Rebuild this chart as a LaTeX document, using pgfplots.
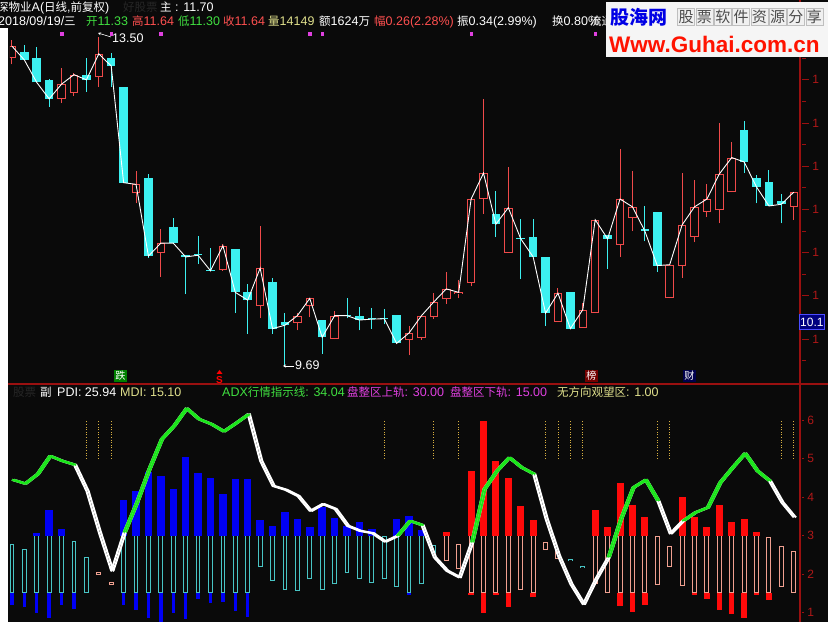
\documentclass[border=0pt]{standalone}
\usepackage{pgfplots}
\pgfplotsset{compat=1.18}
\usepackage{pgfplotstable}
\usepackage{fontspec}
\usetikzlibrary{arrows.meta}
\setmainfont{Liberation Sans}
\newfontfamily\cjk[Scale=0.92]{Noto Sans CJK SC}
\newfontfamily\cjkfull{Noto Sans CJK SC}
\newcommand\zh[1]{{\cjk #1}}
\newcommand\hdr{\fontsize{12.5}{14}\selectfont}

\definecolor{bgk}{HTML}{0A0A0A}
\definecolor{upc}{HTML}{F04A4A}
\definecolor{dnc}{HTML}{3CF0F0}
\definecolor{axr}{HTML}{9A1010}
\definecolor{tkr}{HTML}{B01818}
\definecolor{bblue}{HTML}{0000F5}
\definecolor{bcyan}{HTML}{48C4C4}
\definecolor{bred}{HTML}{FF0A0A}
\definecolor{bpink}{HTML}{F0A090}
\definecolor{adxg}{HTML}{1AE61A}
\definecolor{dotc}{HTML}{D8B040}
\definecolor{mag}{HTML}{E040E0}
\definecolor{txg}{HTML}{40E040}
\definecolor{txr}{HTML}{FF5050}
\definecolor{txy}{HTML}{E0E08C}
\definecolor{txm}{HTML}{E040E0}
\definecolor{dkg}{HTML}{262626}

% candles: i open high low close up
\pgfplotstableread{
i o h l c u
0 13.25 13.46 13.18 13.39 1
1 13.32 13.40 13.23 13.23 0
2 13.25 13.38 12.97 12.97 0
3 13.00 13.01 12.69 12.78 0
4 12.78 13.14 12.73 12.95 1
5 12.85 13.08 12.81 13.06 1
6 13.06 13.25 12.86 13.00 0
7 13.03 13.50 12.92 13.30 1
8 13.25 13.31 12.92 13.16 0
9 12.92 12.92 11.81 11.81 0
10 11.69 11.94 11.57 11.79 1
11 11.86 11.91 10.94 10.96 0
12 11.00 11.27 10.72 11.11 1
13 11.30 11.40 11.11 11.11 0
14 10.97 10.97 10.52 10.95 0
15 10.98 11.19 10.87 10.97 0
16 10.80 11.05 10.79 10.79 0
17 10.80 11.10 10.79 11.08 1
18 11.04 11.04 10.30 10.54 0
19 10.54 10.64 10.06 10.45 0
20 10.38 11.31 10.24 10.82 1
21 10.66 10.71 10.06 10.12 0
22 10.20 10.30 9.69 10.16 0
23 10.19 10.30 10.10 10.27 1
24 10.38 10.47 10.25 10.47 1
25 10.22 10.22 9.83 10.02 0
26 10.00 10.32 10.00 10.27 1
27 10.28 10.47 10.24 10.27 0
28 10.27 10.37 10.10 10.22 0
29 10.24 10.36 10.12 10.23 0
30 10.245 10.35 10.17 10.235 0
31 10.28 10.28 9.95 9.95 0
32 9.99 10.15 9.81 10.07 1
33 10.01 10.27 9.99 10.27 1
34 10.25 10.53 10.23 10.43 1
35 10.46 10.78 10.41 10.58 1
36 10.52 10.68 10.47 10.54 1
37 10.65 11.62 10.61 11.62 1
38 11.62 12.78 11.45 11.92 1
39 11.45 11.71 11.18 11.33 0
40 11.00 11.99 11.00 11.52 1
41 11.17 11.39 10.70 11.16 0
42 11.18 11.39 10.95 10.95 0
43 10.95 10.95 10.15 10.30 0
44 10.20 10.59 10.20 10.53 1
45 10.54 10.54 10.12 10.12 0
46 10.13 10.42 10.13 10.34 1
47 10.30 11.38 10.30 11.38 1
48 11.20 11.20 10.81 11.16 0
49 11.09 12.20 10.95 11.62 1
50 11.40 11.94 11.25 11.53 1
51 11.27 11.54 11.13 11.25 0
52 11.47 11.47 10.78 10.85 0
53 10.47 10.86 10.47 10.86 1
54 10.85 11.92 10.71 11.32 1
55 11.18 11.84 11.12 11.53 1
56 11.47 11.79 11.41 11.62 1
57 11.49 12.50 11.34 11.91 1
58 11.70 12.28 11.70 12.10 1
59 12.42 12.52 11.92 12.05 0
60 11.86 11.90 11.57 11.76 0
61 11.82 11.96 11.54 11.54 0
62 11.60 11.68 11.34 11.56 0
63 11.53 11.70 11.38 11.70 1
}\candles

\pgfplotstableread{
i p
4 13.536
8 13.536
12 13.536
24 13.536
25 13.536
37 13.536
47 13.536
}\topmarks

% DMI bars: i, high value, low value, group (1 red / 0 blue)
\pgfplotstableread{
i hi lo g
0 2.77 1.19 0
1 2.64 1.14 0
2 3.06 0.98 0
3 3.66 0.86 0
4 3.16 1.19 0
5 2.86 1.08 0
6 2.45 1.50 0
7 2.04 1.97 1
8 1.78 1.72 1
9 3.92 1.19 0
10 4.16 1.06 0
11 4.66 0.84 0
12 4.54 0.72 0
13 4.21 0.98 0
14 5.05 0.82 0
15 4.62 1.34 0
16 4.51 1.24 0
17 4.07 1.27 0
18 4.48 1.04 0
19 4.47 0.89 0
20 3.40 2.18 0
21 3.25 1.82 0
22 3.62 1.59 0
23 3.43 1.56 0
24 3.23 1.86 0
25 3.75 1.59 0
26 3.45 1.73 0
27 3.25 2.02 0
28 3.36 1.86 0
29 3.16 1.76 0
30 2.99 1.86 0
31 3.43 1.66 0
32 3.51 1.45 0
33 3.14 1.73 0
34 2.75 2.54 0
35 3.08 2.34 1
36 2.79 2.12 1
37 4.67 1.45 1
38 5.97 0.98 1
39 4.94 1.45 1
40 4.51 1.14 1
41 3.77 1.59 1
42 3.40 1.39 1
43 2.84 2.63 1
44 2.59 2.40 1
45 2.40 2.34 0
46 2.21 2.16 0
47 3.66 1.73 1
48 3.23 1.51 1
49 4.36 1.17 1
50 3.79 1.01 1
51 3.47 1.19 1
52 2.99 1.72 1
53 2.73 2.18 1
54 3.99 1.69 1
55 3.47 1.45 1
56 3.21 1.34 1
57 3.79 1.06 1
58 3.36 0.95 1
59 3.43 0.85 1
60 3.10 1.45 1
61 2.97 1.32 1
62 2.73 1.66 1
63 2.60 1.51 1
}\dmi

\pgfplotstableread{
i lo
6 5
7 5
8 5
30 5
34 5
36 5
43 5
44 5
45 5
46 5
52 5
53 5
62 5
63 5
}\sigdots

\pgfplotstableread{
i a
0 4.45
1 4.35
2 4.60
3 5.07
4 4.94
5 4.84
6 4.16
7 3.08
8 2.08
9 3.08
10 3.86
11 4.73
12 5.51
13 5.86
14 6.31
15 6.03
16 5.90
17 5.71
18 5.93
19 6.16
20 4.94
21 4.29
22 4.19
23 4.03
24 3.64
25 3.82
26 3.69
27 3.25
28 3.12
29 3.06
30 2.84
31 2.99
32 3.38
33 3.27
34 2.43
35 2.08
36 1.91
37 2.82
38 4.21
39 4.68
40 5.03
41 4.77
42 4.60
43 3.43
44 2.47
45 1.73
46 1.21
47 1.86
48 2.43
49 3.43
50 4.25
51 4.45
52 3.90
53 3.05
54 3.38
55 3.60
56 3.73
57 4.38
58 4.77
59 5.14
60 4.68
61 4.42
62 3.86
63 3.47
}\adx

\pgfplotstableread{
i a
0 4.45
1 4.35
2 4.60
3 5.07
4 4.94
5 4.84
5.5 nan
9 3.08
10 3.86
11 4.73
12 5.51
13 5.86
14 6.31
15 6.03
16 5.90
17 5.71
18 5.93
19 6.16
19.5 nan
31 2.99
32 3.38
33 3.27
33.5 nan
37 2.82
38 4.21
39 4.68
40 5.03
41 4.77
42 4.60
42.5 nan
48 2.43
49 3.43
50 4.25
51 4.45
52 3.90
52.5 nan
54 3.38
55 3.60
56 3.73
57 4.38
58 4.77
59 5.14
60 4.68
61 4.42
}\adxg

\begin{document}
\begin{tikzpicture}[x=1pt,y=1pt]
\fill[white] (0,0) rectangle (828,632);
\fill[bgk] (8,10) rectangle (828,632);
\fill[bgk] (0,604) rectangle (8,632);

% ---------------- price panel ----------------
\begin{axis}[
  at={(8,287)}, anchor=south west,
  scale only axis, width=792pt, height=383pt,
  xmin=-0.161, xmax=63.658, ymin=9.479, ymax=13.912,
  axis line style={draw=none},
  xtick=\empty, ytick pos=right,
  ytick={10,10.5,...,13}, yticklabels={1,1,1,1,1,1,1},
  minor ytick={9.75,10.25,...,13.25},
  tick align=outside, major tick length=7pt, minor tick length=4pt,
  every tick/.style={draw=axr, line width=0.8pt},
  yticklabel style={font=\fontsize{12}{12}\selectfont, text=tkr},
]
% wicks
\addplot[dnc, line width=1pt, quiver={u=0,v=\thisrow{h}-\thisrow{l}},
  restrict expr to domain={\thisrow{u}}{-0.5:0.5}] table[x=i,y=l]{\candles};
\addplot[upc, line width=1pt, quiver={u=0,v=\thisrow{h}-\thisrow{l}},
  restrict expr to domain={\thisrow{u}}{0.5:1.5}] table[x=i,y=l]{\candles};
% bodies
\addplot[dnc, line width=8.5pt, quiver={u=0,v=\thisrow{o}-\thisrow{c}},
  restrict expr to domain={\thisrow{u}}{-0.5:0.5}] table[x=i,y=c]{\candles};
\addplot[upc, line width=8.5pt, quiver={u=0,v=\thisrow{c}-\thisrow{o}},
  restrict expr to domain={\thisrow{u}}{0.5:1.5}] table[x=i,y=o]{\candles};
\addplot[bgk, line width=6.5pt, quiver={u=0,v=\thisrow{c}-\thisrow{o}-0.0232},
  restrict expr to domain={\thisrow{u}}{0.5:1.5}] table[x=i,y expr=\thisrow{o}+0.0116]{\candles};
% close line
\addplot[white, line width=0.9pt] table[x=i,y=c]{\candles};
% marks
\addplot[only marks, mark=square*, mark size=1.3pt, mag] table[x=i,y=p]{\topmarks};
\end{axis}

% ---------------- indicator panel ----------------
\begin{axis}[
  at={(8,19.5)}, anchor=south west,
  scale only axis, width=792pt, height=238pt,
  xmin=-0.161, xmax=63.658, ymin=0.682, ymax=6.88,
  axis line style={draw=none},
  xtick=\empty, ytick pos=right,
  ytick={1,2,3,4,5,6}, yticklabels={1,2,3,4,5,6},
  tick align=outside, major tick length=2pt,
  every tick/.style={draw=axr, line width=0.8pt},
  yticklabel style={font=\fontsize{12}{12}\selectfont, text=tkr},
]
% upper filled parts
\addplot[bblue, line width=7.5pt, quiver={u=0,v=\thisrow{hi}-3},
  restrict expr to domain={100*\thisrow{g}+\thisrow{hi}}{3.001:99}] table[x=i,y expr=3]{\dmi};
\addplot[bred, line width=7pt, quiver={u=0,v=\thisrow{hi}-3},
  restrict expr to domain={100*\thisrow{g}+\thisrow{hi}}{103.001:199}] table[x=i,y expr=3]{\dmi};
% lower filled parts
\addplot[bblue, line width=3.5pt, quiver={u=0,v=\thisrow{lo}-1.5},
  restrict expr to domain={100*\thisrow{g}+\thisrow{lo}}{-5:1.499}] table[x=i,y expr=1.5]{\dmi};
\addplot[bred, line width=5.5pt, quiver={u=0,v=\thisrow{lo}-1.5},
  restrict expr to domain={100*\thisrow{g}+\thisrow{lo}}{95:101.499}] table[x=i,y expr=1.5]{\dmi};
% outlined parts
\addplot[bcyan, line width=4.8pt, quiver={u=0,v={min(\thisrow{hi},3)-max(\thisrow{lo},1.5)}},
  restrict expr to domain={\thisrow{g}}{-0.5:0.5}] table[x=i,y expr={max(\thisrow{lo},1.5)}]{\dmi};
\addplot[bpink, line width=5pt, quiver={u=0,v={min(\thisrow{hi},3)-max(\thisrow{lo},1.5)}},
  restrict expr to domain={\thisrow{g}}{0.5:1.5}] table[x=i,y expr={max(\thisrow{lo},1.5)}]{\dmi};
\addplot[bgk, line width=2.8pt, quiver={u=0,v={min(\thisrow{hi},3)-max(\thisrow{lo},1.5)-0.052}},
  restrict expr to domain={\thisrow{g}}{-0.5:0.5}] table[x=i,y expr={max(\thisrow{lo},1.5)+0.026}]{\dmi};
\addplot[bgk, line width=3pt, quiver={u=0,v={min(\thisrow{hi},3)-max(\thisrow{lo},1.5)-0.052}},
  restrict expr to domain={\thisrow{g}}{0.5:1.5}] table[x=i,y expr={max(\thisrow{lo},1.5)+0.026}]{\dmi};
% dotted signal lines
\addplot[dotc, line width=0.9pt, dash pattern=on 1pt off 1.6pt, quiver={u=0,v=1}]
  table[x=i,y=lo]{\sigdots};
% ADX band
\addplot[white, line width=2pt, line join=round] table[x=i,y=a]{\adx};
\addplot[white, line width=2pt, line join=round, x filter/.expression={x+0.18}] table[x=i,y=a]{\adx};
\addplot[adxg, line width=2pt, line join=round, unbounded coords=jump] table[x=i,y=a]{\adxg};
\addplot[adxg, line width=2pt, line join=round, unbounded coords=jump, x filter/.expression={x+0.18}] table[x=i,y=a]{\adxg};
\end{axis}

% repaint the area outside the panels
\fill[white] (0,0) rectangle (828,10);
\fill[bgk] (8,248) rectangle (800,249.5);

% axis lines
\draw[axr, line width=1.2pt] (800,10) -- (800,632);
\draw[axr, line width=1.2pt] (8,248) -- (828,248);

% ------------- header texts -------------
\begin{scope}[every node/.style={inner sep=0pt, anchor=base west, font=\hdr}]
\node[text=white] at (-3,620) {\zh{深物业}A(\zh{日线},\zh{前复权})};
\node[text=dkg] at (123,620) {\zh{好股票}};
\node[text=white] at (160,620) {\zh{主} : 11.70};
\node[text=white] at (-2,606) {2018/09/19/\zh{三}};
\node[text=txg] at (86,606) {\zh{开}11.33};
\node[text=txr] at (132,606) {\zh{高}11.64};
\node[text=txg] at (178,606) {\zh{低}11.30};
\node[text=txr] at (223,606) {\zh{收}11.64};
\node[text=txy] at (268,606) {\zh{量}14149};
\node[text=white] at (319,606) {\zh{额}1624\zh{万}};
\node[text=txr] at (374,606) {\zh{幅}0.26(2.28\%)};
\node[text=white] at (457,606) {\zh{振}0.34(2.99\%)};
\node[text=white] at (552,606) {\zh{换}0.80\%};
\node[text=white] at (590,606) {\zh{流通}};
% indicator header
\node[text=dkg] at (13,235) {\zh{股票}};
\node[text=white] at (40,235) {\zh{副}};
\node[text=white] at (57,235) {PDI: 25.94};
\node[text=txy] at (120,235) {MDI: 15.10};
\node[text=txg] at (222,235) {ADX\zh{行情指示线}: 34.04};
\node[text=txm] at (347,235) {\zh{盘整区上轨}: 30.00};
\node[text=txm] at (450,235) {\zh{盘整区下轨}: 15.00};
\node[text=txy] at (557,235) {\zh{无方向观望区}: 1.00};
% annotations
\node[text=white] at (112,589) {13.50};
\node[text=white] at (295,262) {9.69};
\end{scope}
\draw[white, line width=0.6pt, -{Stealth[length=3pt,width=3pt]}] (111,595) -- (98,599);
\draw[white, line width=0.6pt, -{Stealth[length=3pt,width=3pt]}] (294,266) -- (283,266);

% signal labels
\node[fill=green!50!black, text=white, inner sep=1pt, font=\cjk\fontsize{11}{11}\selectfont] at (120.5,256) {跌};
\fill[red] (216.5,258) -- (222.5,258) -- (219.5,262) -- cycle;
\node[text=red, inner sep=0pt, font=\bfseries\fontsize{10}{10}\selectfont] at (219.5,252) {S};
\node[fill=red!45!black, text=white, inner sep=1pt, font=\cjk\fontsize{11}{11}\selectfont] at (591.5,256) {榜};
\node[fill=blue!30!black, text=white, inner sep=1pt, font=\cjk\fontsize{11}{11}\selectfont] at (689.5,256) {财};

% current price tag
\node[fill=blue!50!black, draw=blue!70!white, text=white, anchor=west, inner sep=1pt, minimum height=15pt, font=\fontsize{12}{12}\selectfont] at (799,310) {10.1};

% watermark
\fill[white!96!black] (606,575) rectangle (828,630);
\node[anchor=west, inner sep=0pt, text=blue!90!black, font=\cjkfull\bfseries\fontsize{19}{19}\selectfont] at (610,615) {股海网};
\foreach \ch [count=\k] in {股,票,软,件,资,源,分,享}
  \node[draw=black!25, fill=black!6, text=black!70, inner sep=0.5pt, minimum size=17pt, font=\cjkfull\fontsize{15}{15}\selectfont] at (677+18.3*\k-9.15,615) {\ch};
\node[anchor=west, inner sep=0pt, text=red!85!orange, font=\bfseries\fontsize{22.5}{22.5}\selectfont] at (609,588) {Www.Guhai.com.cn};

\pgfresetboundingbox
\useasboundingbox (0,0) rectangle (828,632);
\end{tikzpicture}
\end{document}
